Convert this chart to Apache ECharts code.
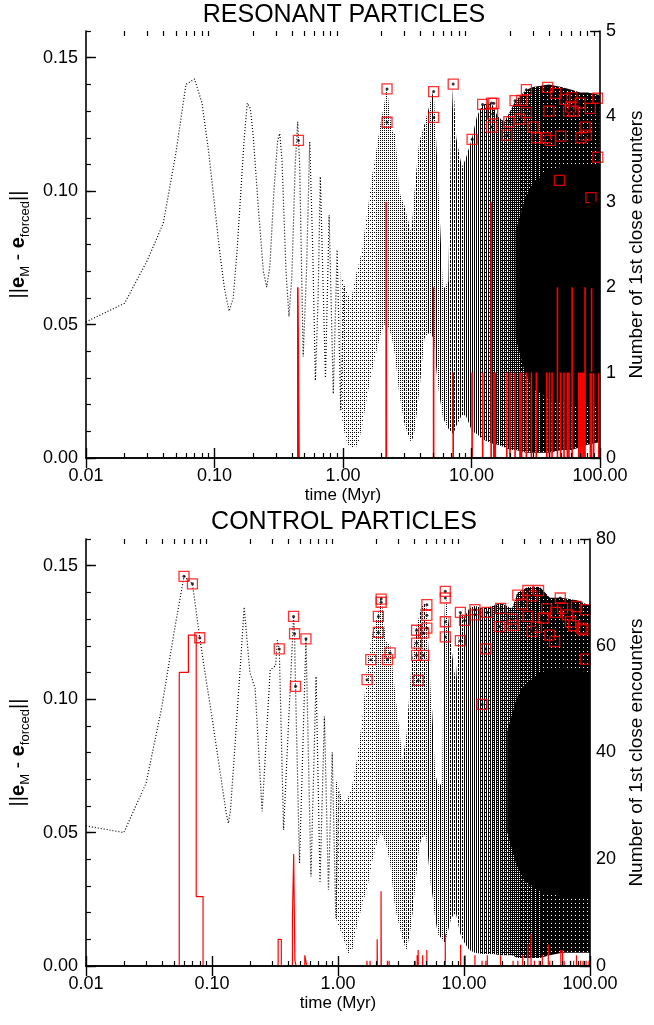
<!DOCTYPE html>
<html><head><meta charset="utf-8">
<script src="https://cdn.jsdelivr.net/npm/echarts@6/dist/echarts.min.js"></script>
<style>html,body{margin:0;padding:0;background:#fff}#c{width:654px;height:1025px}</style>
</head><body><div id="c"></div>
<script>
// ---------------- DATA ----------------
const xMajorTicks = [0.01, 0.1, 1, 10, 100];
const xMinorTicks = [0.02,0.03,0.04,0.05,0.06,0.07,0.08,0.09,0.2,0.3,0.4,0.5,0.6,0.7,0.8,0.9,2,3,4,5,6,7,8,9,20,30,40,50,60,70,80,90];
const panelTitles = ['RESONANT PARTICLES', 'CONTROL PARTICLES'];

// RESONANT: resolved early oscillation (time Myr, ||eM - eforced||)
const resLineT = [0.01,0.02,0.03,0.04,0.05,0.06,0.07,0.08,0.09,0.10,0.11,0.12,0.13,0.14,0.15,0.16,0.17,0.18,0.19,0.20,0.22,0.24,0.255,0.27,0.29,0.31,0.322,0.335,0.36,0.38,0.40,0.425,0.444,0.46,0.49,0.52,0.551,0.58,0.61,0.64,0.666,0.70,0.73,0.78,0.84,0.90,0.96,1.02];
const resLineV = [0.051,0.058,0.074,0.088,0.114,0.140,0.142,0.133,0.115,0.095,0.077,0.063,0.055,0.060,0.078,0.099,0.119,0.133,0.131,0.121,0.093,0.070,0.064,0.072,0.100,0.119,0.1216,0.112,0.070,0.053,0.068,0.110,0.126,0.110,0.038,0.070,0.1185,0.080,0.029,0.060,0.1054,0.065,0.030,0.091,0.024,0.078,0.018,0.065];
// RESONANT: envelope of the unresolved fast oscillation
const resBandT = [0.96,1.02,1.08,1.15,1.26,1.33,1.41,1.49,1.58,1.67,1.82,1.95,2.1,2.2,2.3,2.4,2.55,2.74,3.03,3.4,3.6,3.9,4.3,4.7,5.07,5.4,5.6,6.0,6.6,6.9,7.2,7.6,8.4,9.0,10.1,11,12.2,14.3,16,18,20,22,26.7,30,40,50,60,70,80,100];
const resBandLow = [0.018,0.010,0.0054,0.004,0.004,0.0066,0.012,0.019,0.026,0.032,0.040,0.046,0.050,0.050,0.048,0.045,0.038,0.024,0.012,0.0055,0.010,0.024,0.045,0.047,0.045,0.030,0.024,0.015,0.011,0.010,0.009,0.012,0.016,0.016,0.010,0.009,0.007,0.0055,0.005,0.004,0.003,0.003,0.002,0.002,0.002,0.003,0.003,0.004,0.005,0.006];
const resBandHigh = [0.070,0.065,0.062,0.059,0.0685,0.073,0.078,0.087,0.0954,0.105,0.1154,0.125,0.133,0.139,0.130,0.123,0.121,0.0998,0.094,0.084,0.100,0.118,0.125,0.132,0.138,0.1116,0.095,0.063,0.066,0.120,0.141,0.120,0.109,0.112,0.120,0.128,0.1325,0.133,0.128,0.126,0.130,0.134,0.138,0.139,0.140,0.139,0.138,0.137,0.137,0.136];
// RESONANT: solid-black core of the dense part
const resCoreT = [22, 26, 30, 40, 60, 100];
const resCoreLow = [0.045, 0.032, 0.026, 0.022, 0.02, 0.02];
const resCoreHigh = [0.085, 0.097, 0.103, 0.108, 0.11, 0.11];
// RESONANT: close encounters (0.01 Myr bins)
const resHistT = [0.45,2.17,5.07,7.20,10.10,12.20,14.20,14.90,15.30,18.80,19.90,21.80,23.80,24.50,26.70,29.20,31.90,38.50,40.40,42.30,46.60,49.40,52.40,55.60,57.30,60.60,68.20,70.30,72.40,74.60,76.40,84.00,85.90,89.20,97.60];
const resHistN = [2,3,2,1,1,1,3,1,1,1,1,1,1,1,1,1,1,1,1,1,2,1,1,1,1,2,1,1,1,1,2,1,2,1,1];
// RESONANT: encounter moments on the curve
const resMarkT = [0.45,2.2,2.2,5.07,5.07,7.2,10.1,12.2,14.3,14.9,14.6,14.3,19.5,18.8,21.8,24.5,26.7,26.7,23.8,30.1,32.2,39.1,40,41,45.2,49.4,48.2,53.2,60.5,59,62,70,71,76.4,78,84.9,84,95.4,96,37.7,57];
const resMarkV = [0.119,0.1383,0.1258,0.1373,0.1276,0.1401,0.1194,0.1325,0.133,0.1329,0.1289,0.124,0.126,0.121,0.1339,0.134,0.138,0.1294,0.127,0.124,0.120,0.1389,0.130,0.119,0.1366,0.1206,0.104,0.1344,0.135,0.1316,0.130,0.133,0.120,0.124,0.121,0.0976,0.131,0.1348,0.1127,0.120,0.130];

// CONTROL
const ctlLineT = [0.01,0.02,0.03,0.04,0.05,0.06,0.07,0.08,0.09,0.10,0.11,0.12,0.13,0.135,0.14,0.15,0.16,0.17,0.18,0.20,0.22,0.25,0.29,0.32,0.33,0.342,0.37,0.444,0.452,0.46,0.495,0.557,0.61,0.67,0.72,0.78,0.84,0.90,0.96,1.02];
const ctlLineV = [0.0525,0.050,0.0685,0.097,0.125,0.146,0.1432,0.123,0.107,0.0933,0.080,0.068,0.057,0.0535,0.058,0.078,0.098,0.116,0.1345,0.110,0.104,0.058,0.111,0.1125,0.122,0.1188,0.051,0.131,0.1245,0.1048,0.0385,0.1226,0.0335,0.1085,0.0316,0.0935,0.0285,0.080,0.018,0.066];
const ctlBandT = [0.96,1.02,1.11,1.2,1.3,1.41,1.58,1.72,1.88,2.09,2.2,2.4,2.6,2.8,2.9,3.25,3.5,3.8,3.95,4.2,4.4,4.6,5.0,5.45,5.6,5.9,6.2,6.7,6.9,7.1,7.9,8.6,9.35,10.1,11,12.2,14,17,19.5,24,26.7,32,40,48,60,80,100];
const ctlBandLow = [0.018,0.0147,0.010,0.0048,0.006,0.015,0.024,0.030,0.040,0.048,0.050,0.046,0.038,0.024,0.020,0.010,0.006,0.015,0.022,0.035,0.0447,0.048,0.049,0.030,0.027,0.018,0.012,0.010,0.009,0.009,0.018,0.020,0.012,0.0086,0.006,0.005,0.0045,0.0045,0.004,0.004,0.003,0.003,0.003,0.004,0.005,0.005,0.005];
const ctlBandHigh = [0.070,0.066,0.061,0.063,0.068,0.077,0.095,0.1148,0.125,0.132,0.1385,0.1216,0.120,0.105,0.0986,0.077,0.087,0.111,0.118,0.127,0.131,0.135,0.136,0.102,0.095,0.072,0.068,0.068,0.12,0.141,0.12,0.106,0.1325,0.131,0.134,0.135,0.134,0.135,0.136,0.134,0.140,0.142,0.142,0.138,0.138,0.137,0.135];
const ctlCoreT = [22, 26, 30, 40, 60, 100];
const ctlCoreLow = [0.05, 0.038, 0.032, 0.028, 0.026, 0.026];
const ctlCoreHigh = [0.088, 0.1, 0.105, 0.11, 0.112, 0.11];
const ctlHistT = [0.06,0.07,0.08,0.34,0.35,0.44,0.45,0.46,0.55,0.56,1.70,1.80,2.05,2.20,2.47,2.55,4.10,4.25,4.33,4.70,5.07,7.10,9.40,10.20,12.20,13.90,14.90,15.30,19.50,24.50,26.70,29.20,32.10,34.00,36.20,39.50,41.80,46.60,47.90,50.30,58.60,60.50,62.30,70.00,74.00,78.00,84.00,88.00,93.00,98.00];
const ctlHistN = [55,62,13,5,5,9,21,1,2,1,1,1,5,14,1,1,1,2,3,2,3,6,4,2,2,1,1,2,2,1,1,2,4,6,1,1,2,4,1,1,3,3,1,1,1,2,1,1,1,1];
const ctlMarkT = [0.06,0.07,0.08,0.342,0.444,0.452,0.46,0.557,1.70,1.82,2.09,2.09,2.2,2.2,2.59,2.47,4.2,4.2,4.2,4.33,4.78,4.78,5.07,5.07,5.07,7.1,7.1,7.1,7.1,9.35,10.1,9.35,12.2,12.2,14.9,15.2,13.9,19.5,19.1,24.2,24.5,26.7,28.9,32.1,34.7,39,32.1,34.7,37.5,42.5,45.2,47.9,52.3,53.2,58,60.5,66,70,78,87.6,91.4,91.4,85,74];
const ctlMarkV = [0.146,0.1432,0.123,0.1188,0.131,0.1245,0.1048,0.1226,0.1073,0.1148,0.125,0.131,0.1363,0.1375,0.1173,0.1148,0.1258,0.121,0.1164,0.107,0.1248,0.1164,0.1354,0.1314,0.1266,0.1404,0.1379,0.129,0.1233,0.1325,0.1295,0.1219,0.1335,0.1316,0.1188,0.1325,0.098,0.134,0.1272,0.130,0.1276,0.139,0.1356,0.1407,0.1387,0.1407,0.131,0.1254,0.127,0.1304,0.1338,0.124,0.1216,0.1325,0.1379,0.134,0.1316,0.129,0.1347,0.126,0.1335,0.115,0.1266,0.1275];

const HIST_BIN = 0.01;

// ---------------- HELPERS ----------------
const FONT = '"Liberation Sans", Arial, Helvetica, sans-serif';
const GL = 81, GW = 526;

function pairs(T, V) { return T.map((t, i) => [t, V[i]]); }

function histOutline(T, N) {
  const out = [];
  const h = HIST_BIN / 2;
  for (let i = 0; i < T.length; i++) {
    const l = T[i] - h, r = T[i] + h;
    const adjPrev = i > 0 && Math.abs(T[i] - T[i - 1] - HIST_BIN) < 1e-6;
    const adjNext = i < T.length - 1 && Math.abs(T[i + 1] - T[i] - HIST_BIN) < 1e-6;
    if (!adjPrev) out.push([l, 0]);
    out.push([l, N[i]]);
    out.push([r, N[i]]);
    if (!adjNext) { out.push([r, 0]); out.push([r, '-']); }
  }
  return out;
}

// Texture (styling only) imitating the dotted, unresolved oscillation:
// vertical dotted stripes whose ink density grows smoothly to the right.
function makePattern() {
  const c = document.createElement('canvas');
  c.width = 654; c.height = 4;
  const ctx = c.getContext('2d');
  ctx.fillStyle = '#000';
  const rank = [
    [0, 4, 1, 5],
    [8, 12, 9, 13],
    [2, 6, 3, 7],
    [10, 14, 11, 15]
  ];
  const stops = [[-0.1, 0.12], [0.3, 0.2], [0.6, 0.3], [0.9, 0.42], [1.15, 0.58], [1.3, 0.72], [1.5, 0.88], [2.1, 0.93]];
  function dens(lt) {
    if (lt <= stops[0][0]) return stops[0][1];
    for (let i = 1; i < stops.length; i++) {
      if (lt <= stops[i][0]) {
        const f = (lt - stops[i - 1][0]) / (stops[i][0] - stops[i - 1][0]);
        return stops[i - 1][1] + f * (stops[i][1] - stops[i - 1][1]);
      }
    }
    return stops[stops.length - 1][1];
  }
  for (let x = 0; x < 654; x++) {
    const d = dens((x - GL) / (GW / 4) - 2) * 16;
    for (let y = 0; y < 4; y++) if (rank[x % 4][y] < d) ctx.fillRect(x, y, 1, 1);
  }
  return c;
}
const PATTERN = { image: makePattern(), repeat: 'repeat' };

function bandRender(T, lo, hi, cT, cLo, cHi) {
  return function (params, api) {
    const pts = [], core = [];
    for (let i = 0; i < T.length; i++) pts.push(api.coord([T[i], hi[i]]));
    for (let i = T.length - 1; i >= 0; i--) pts.push(api.coord([T[i], lo[i]]));
    for (let i = 0; i < cT.length; i++) core.push(api.coord([cT[i], cHi[i]]));
    for (let i = cT.length - 1; i >= 0; i--) core.push(api.coord([cT[i], cLo[i]]));
    return {
      type: 'group',
      children: [
        { type: 'polygon', shape: { points: pts }, style: { fill: PATTERN, stroke: null } },
        { type: 'polygon', shape: { points: core }, style: { fill: '#000', stroke: null } }
      ]
    };
  };
}

function xAxesFor(g) {
  const base = { gridIndex: g, type: 'log', logBase: 10, min: 0.01, max: 100, splitLine: { show: false }, z: 10 };
  const lineStyle = { color: '#000', width: 1.6 };
  return [
    Object.assign({}, base, {
      position: 'bottom',
      axisLine: { show: true, lineStyle },
      axisTick: { show: true, inside: true, length: 10, customValues: xMajorTicks, lineStyle: { color: '#000', width: 1.4 } },
      axisLabel: { show: true, customValues: xMajorTicks, formatter: v => Number(v).toFixed(2), fontSize: 18, color: '#000', fontFamily: FONT, margin: 9 },
      name: 'time (Myr)', nameLocation: 'middle', nameGap: 29,
      nameTextStyle: { fontSize: 17, color: '#000', fontFamily: FONT }
    }),
    Object.assign({}, base, {
      position: 'bottom',
      axisLine: { show: false },
      axisTick: { show: true, inside: true, length: 5, customValues: xMinorTicks, lineStyle: { color: '#000', width: 1.2 } },
      axisLabel: { show: false }
    }),
    Object.assign({}, base, {
      position: 'top',
      axisLine: { show: true, lineStyle },
      axisTick: { show: true, inside: true, length: 10, customValues: xMajorTicks, lineStyle: { color: '#000', width: 1.4 } },
      axisLabel: { show: false }
    }),
    Object.assign({}, base, {
      position: 'top',
      axisLine: { show: false },
      axisTick: { show: true, inside: true, length: 5, customValues: xMinorTicks, lineStyle: { color: '#000', width: 1.2 } },
      axisLabel: { show: false }
    })
  ];
}

const leftName = '{n|||}{b|e}{s|M}{n| - }{b|e}{s|forced}{n|||}';
const leftRich = {
  n: { fontSize: 20, fontFamily: FONT, color: '#000', lineHeight: 28 },
  b: { fontSize: 20, fontFamily: FONT, color: '#000', fontWeight: 'bold', lineHeight: 28 },
  s: { fontSize: 13, fontFamily: FONT, color: '#000', lineHeight: 13, verticalAlign: 'bottom' }
};

function yAxesFor(g, rMax, rInt, rGap) {
  const lineStyle = { color: '#000', width: 1.6 };
  return [
    { gridIndex: g, type: 'value', position: 'left', min: 0, max: 0.16, interval: 0.05, z: 10,
      axisLine: { show: true, lineStyle },
      axisTick: { show: true, inside: true, length: 10, lineStyle: { color: '#000', width: 1.4 } },
      axisLabel: { formatter: v => Number(v).toFixed(2), fontSize: 18, color: '#000', fontFamily: FONT, margin: 8, showMaxLabel: false },
      splitLine: { show: false },
      name: leftName, nameLocation: 'middle', nameRotate: 90, nameGap: 49,
      nameTextStyle: { rich: leftRich }
    },
    { gridIndex: g, type: 'value', position: 'right', min: 0, max: rMax, interval: rInt, z: 10,
      axisLine: { show: true, lineStyle },
      axisTick: { show: true, inside: true, length: 10, lineStyle: { color: '#000', width: 1.4 } },
      axisLabel: { fontSize: 18, color: '#000', fontFamily: FONT, margin: 6 },
      splitLine: { show: false },
      name: 'Number of 1st close encounters', nameLocation: 'middle', nameRotate: 90, nameGap: rGap,
      nameTextStyle: { fontSize: 19, color: '#000', fontFamily: FONT }
    },
    { gridIndex: g, type: 'value', position: 'left', min: 0, max: 0.16, interval: 0.01, z: 10,
      axisLine: { show: false },
      axisTick: { show: true, inside: true, length: 5, lineStyle: { color: '#000', width: 1.2 } },
      axisLabel: { show: false }, splitLine: { show: false }
    }
  ];
}

function panelSeries(xi, yl, yr, lineT, lineV, bT, bLo, bHi, cT, cLo, cHi, hT, hN, mT, mV, histW) {
  return [
    { type: 'custom', xAxisIndex: xi, yAxisIndex: yl, coordinateSystem: 'cartesian2d', clip: true, z: 2,
      renderItem: bandRender(bT, bLo, bHi, cT, cLo, cHi), data: [[1, 0.05]], silent: true },
    { type: 'line', xAxisIndex: xi, yAxisIndex: yl, data: pairs(lineT, lineV), showSymbol: false, z: 3,
      lineStyle: { color: '#000', width: 1.2, type: [1, 2] }, clip: true, silent: true },
    { type: 'line', xAxisIndex: xi, yAxisIndex: yr, data: histOutline(hT, hN), showSymbol: false, z: 4,
      connectNulls: false, lineStyle: { color: '#ff0000', width: histW }, clip: true, silent: true },
    { type: 'scatter', xAxisIndex: xi, yAxisIndex: yl, data: pairs(mT, mV), symbol: 'rect', symbolSize: 10, z: 5,
      itemStyle: { color: 'rgba(0,0,0,0)', borderColor: '#ff0000', borderWidth: 1.3 }, clip: true, silent: true },
    { type: 'scatter', xAxisIndex: xi, yAxisIndex: yl, data: pairs(mT, mV), symbol: 'circle', symbolSize: 3, z: 6,
      itemStyle: { color: '#000' }, clip: true, silent: true }
  ];
}

const chart = echarts.init(document.getElementById('c'), null, { renderer: 'canvas', width: 654, height: 1025 });
chart.setOption({
  animation: false,
  backgroundColor: '#fff',
  graphic: [
    { type: 'text', x: GL + GW / 2, y: 15, z: 20,
      style: { text: panelTitles[0], align: 'center', verticalAlign: 'middle', fontSize: 25, fontFamily: FONT, fill: '#000' } },
    { type: 'text', x: GL + GW / 2, y: 522, z: 20,
      style: { text: panelTitles[1], align: 'center', verticalAlign: 'middle', fontSize: 25, fontFamily: FONT, fill: '#000' } }
  ],
  grid: [
    { left: GL, top: 31, width: GW, height: 427 },
    { left: GL, top: 539, width: GW, height: 427 }
  ],
  xAxis: xAxesFor(0).concat(xAxesFor(1)),
  yAxis: yAxesFor(0, 5, 1, 17).concat(yAxesFor(1, 80, 20, 33)),
  series: [].concat(
    panelSeries(0, 0, 1, resLineT, resLineV, resBandT, resBandLow, resBandHigh, resCoreT, resCoreLow, resCoreHigh, resHistT, resHistN, resMarkT, resMarkV, 1.6),
    panelSeries(4, 3, 4, ctlLineT, ctlLineV, ctlBandT, ctlBandLow, ctlBandHigh, ctlCoreT, ctlCoreLow, ctlCoreHigh, ctlHistT, ctlHistN, ctlMarkT, ctlMarkV, 1.2)
  )
});
</script></body></html>
